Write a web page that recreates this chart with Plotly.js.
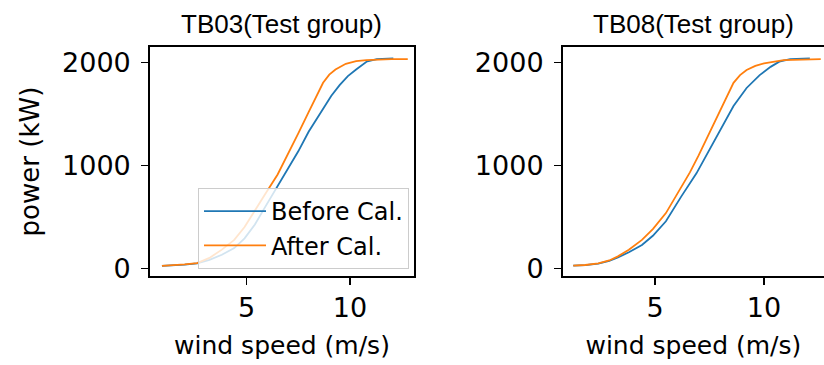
<!DOCTYPE html>
<html>
<head>
<meta charset="utf-8">
<script src="https://cdn.plot.ly/plotly-3.0.1.min.js"></script>
<style>html,body{margin:0;padding:0;background:#fff;}#chart{width:824px;height:365px;}</style>
</head>
<body>
<div id="chart"></div>
<script>
// TB03 (Test group)
const tb03BeforeX = [0.9, 1.5, 2.0, 2.6, 3.2, 3.8, 4.4, 4.9, 5.4, 5.9, 6.5, 7.0, 7.5, 8.0, 8.7, 9.1, 9.5, 9.9, 10.3, 10.8, 11.3, 12.1];
const tb03BeforeY = [28, 33, 40, 52, 85, 135, 200, 295, 430, 600, 800, 960, 1140, 1330, 1560, 1680, 1783, 1870, 1935, 2010, 2035, 2042];
const tb03AfterX  = [0.9, 1.5, 2.0, 2.6, 3.2, 3.8, 4.4, 4.9, 5.4, 5.9, 6.5, 7.0, 7.5, 8.0, 8.7, 9.0, 9.3, 9.8, 10.3, 10.8, 11.5, 12.0, 12.8];
const tb03AfterY  = [28, 33, 42, 55, 105, 185, 280, 405, 560, 725, 915, 1110, 1315, 1520, 1805, 1885, 1935, 1990, 2015, 2026, 2033, 2035, 2036];
// TB08 (Test group)
const tb08BeforeX = [1.25, 1.8, 2.4, 2.9, 3.3, 3.8, 4.4, 4.9, 5.5, 6.2, 6.9, 7.5, 8.0, 8.6, 9.2, 9.8, 10.3, 10.7, 11.2, 12.1];
const tb08BeforeY = [29, 35, 50, 75, 110, 160, 230, 320, 460, 700, 926, 1160, 1360, 1580, 1755, 1880, 1960, 2010, 2035, 2042];
const tb08AfterX  = [1.25, 1.8, 2.4, 2.9, 3.3, 3.8, 4.4, 4.9, 5.5, 6.2, 6.6, 7.0, 7.5, 8.0, 8.6, 8.9, 9.2, 9.6, 10.0, 10.9, 11.5, 12.0, 12.6];
const tb08AfterY  = [29, 36, 52, 80, 120, 185, 280, 385, 540, 795, 935, 1100, 1320, 1550, 1805, 1880, 1929, 1970, 1994, 2026, 2032, 2035, 2036];

const seriesNames = ['Before Cal.', 'After Cal.'];
const panelTitles = ['TB03(Test group)', 'TB08(Test group)'];
const xTicks = [5, 10];
const yTicks = [0, 1000, 2000];
const xLabel = 'wind speed (m/s)';
const yLabel = 'power (kW)';

const BLUE = '#1f77b4', ORANGE = '#ff7f0e';
const tickFont = {family: 'DejaVu Sans', size: 27, color: '#000'};
const xLabelFont = {family: 'DejaVu Sans', size: 25, color: '#000'};
const yLabelFont = {family: 'DejaVu Sans', size: 26, color: '#000'};

const traces = [
  {x: tb03BeforeX, y: tb03BeforeY, name: seriesNames[0], mode: 'lines', line: {color: BLUE, width: 1.8}, xaxis: 'x', yaxis: 'y'},
  {x: tb03AfterX, y: tb03AfterY, name: seriesNames[1], mode: 'lines', line: {color: ORANGE, width: 1.8}, xaxis: 'x', yaxis: 'y'},
  {x: tb08BeforeX, y: tb08BeforeY, name: seriesNames[0], mode: 'lines', line: {color: BLUE, width: 1.8}, xaxis: 'x2', yaxis: 'y2', showlegend: false},
  {x: tb08AfterX, y: tb08AfterY, name: seriesNames[1], mode: 'lines', line: {color: ORANGE, width: 1.8}, xaxis: 'x2', yaxis: 'y2', showlegend: false}
];

function xAxis(domain, range, anchor) {
  return {
    domain: domain, range: range, anchor: anchor,
    tickvals: xTicks, ticks: 'outside', ticklen: 7, tickwidth: 1.5, tickcolor: '#000',
    showline: true, linecolor: '#000', linewidth: 1.8, mirror: true,
    showgrid: false, zeroline: false, tickfont: tickFont,
    title: {text: xLabel, font: xLabelFont, standoff: 14}
  };
}
function yAxis(domain, anchor, mirror, withTitle) {
  return {
    domain: domain, range: [-71, 2152], anchor: anchor,
    tickvals: yTicks, ticks: 'outside', ticklen: 7, tickwidth: 1.5, tickcolor: '#000',
    showline: true, linecolor: '#000', linewidth: 1.8, mirror: mirror,
    showgrid: false, zeroline: false, tickfont: tickFont, ticklabelstandoff: 5,
    title: withTitle ? {text: yLabel, font: yLabelFont, standoff: 15} : {text: ''}
  };
}

const layout = {
  width: 824, height: 365,
  margin: {l: 0, r: 0, t: 0, b: 0},
  paper_bgcolor: '#fff', plot_bgcolor: '#fff',
  font: {family: 'DejaVu Sans', color: '#000'},
  xaxis: xAxis([0.182, 0.5024], [0.32, 13.1], 'y'),
  yaxis: yAxis([0.2438, 0.871], 'x', true, true),
  xaxis2: xAxis([0.683, 1.0], [0.77, 12.75], 'y2'),
  yaxis2: yAxis([0.2438, 0.871], 'x2', false, false),
  showlegend: true,
  legend: {
    x: 0.2403, y: 0.485, xanchor: 'left', yanchor: 'top',
    bgcolor: 'rgba(255,255,255,0.8)', bordercolor: '#cccccc', borderwidth: 1,
    font: {family: 'DejaVu Sans', size: 24, color: '#000'},
    itemwidth: 62
  },
  annotations: [
    {text: panelTitles[0], xref: 'paper', yref: 'paper', x: 0.342, y: 0.934, xanchor: 'center', yanchor: 'middle', showarrow: false,
     font: {family: 'Liberation Sans', size: 26, color: '#000'}},
    {text: panelTitles[1], xref: 'paper', yref: 'paper', x: 0.8416, y: 0.934, xanchor: 'center', yanchor: 'middle', showarrow: false,
     font: {family: 'Liberation Sans', size: 26, color: '#000'}}
  ]
};

Plotly.newPlot('chart', traces, layout, {staticPlot: true, displayModeBar: false});
</script>
</body>
</html>
